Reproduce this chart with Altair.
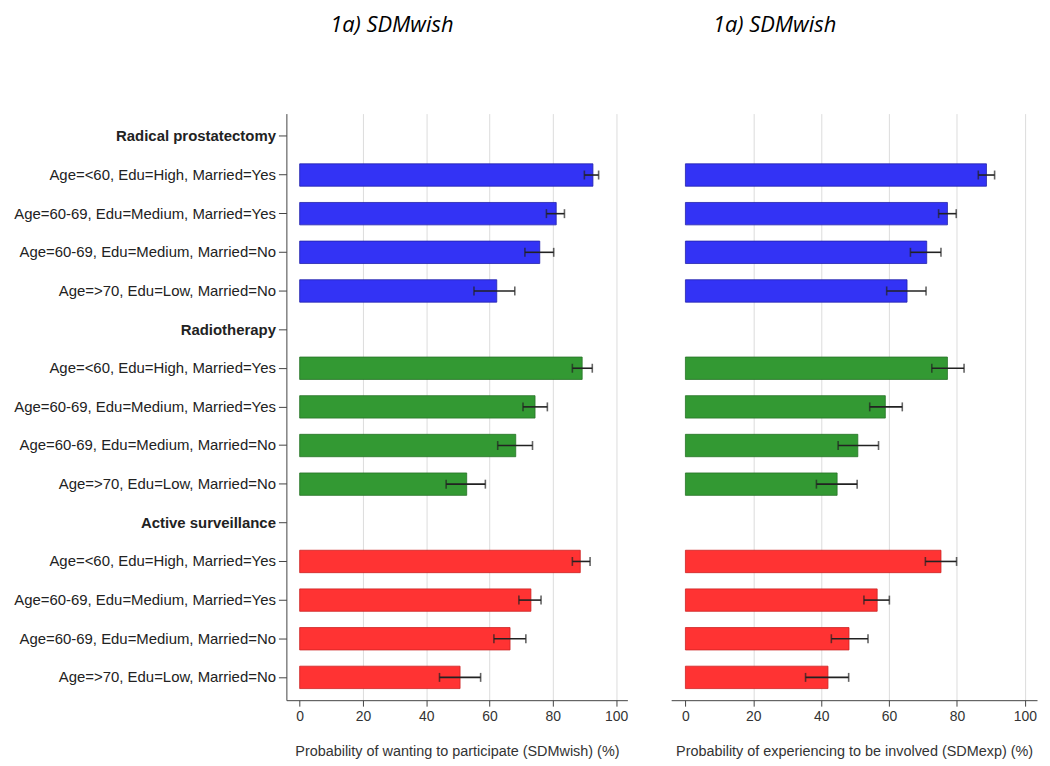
import altair as alt
import pandas as pd

groups = ["Radical prostatectomy", "Radiotherapy", "Active surveillance"]
profiles = [
    "Age=<60, Edu=High, Married=Yes",
    "Age=60-69, Edu=Medium, Married=Yes",
    "Age=60-69, Edu=Medium, Married=No",
    "Age=>70, Edu=Low, Married=No",
]
colors = ["#3333f5", "#339933", "#ff3333"]
strokes = ["#2222aa", "#267326", "#cc2222"]

wish_est = [92.7, 81.1, 75.9, 62.3, 89.3, 74.4, 68.3, 52.8, 88.7, 73.1, 66.5, 50.7]
wish_lo = [90.0, 78.0, 71.2, 55.1, 86.2, 70.6, 62.6, 46.3, 86.2, 69.3, 61.4, 44.2]
wish_hi = [94.5, 83.7, 80.3, 68.0, 92.5, 78.3, 73.6, 58.7, 91.8, 76.3, 71.5, 57.2]

exp_est = [88.7, 77.2, 71.1, 65.3, 77.2, 58.9, 50.8, 44.7, 75.3, 56.5, 48.2, 42.0]
exp_lo = [86.3, 74.6, 66.3, 59.3, 72.6, 54.3, 45.0, 38.6, 70.7, 52.6, 43.0, 35.4]
exp_hi = [91.1, 79.8, 75.3, 70.9, 82.1, 63.9, 56.9, 50.6, 79.9, 60.1, 53.8, 48.1]

title_text = "1a) SDMwish"
xtitle_left = "Probability of wanting to participate (SDMwish) (%)"
xtitle_right = "Probability of experiencing to be involved (SDMexp) (%)"

keys = []
rows = []
k = 0
for gi, g in enumerate(groups):
    keys.append(f"H{gi}|{g}")
    for ri, p in enumerate(profiles):
        key = f"R{gi}{ri}|{p}"
        keys.append(key)
        rows.append({
            "key": key, "group": g,
            "wish": wish_est[k], "wish_lo": wish_lo[k], "wish_hi": wish_hi[k],
            "exp": exp_est[k], "exp_lo": exp_lo[k], "exp_hi": exp_hi[k],
        })
        k += 1
df = pd.DataFrame(rows)

FONT = "Liberation Sans"
yscale = alt.Scale(domain=keys, paddingInner=0.42, paddingOuter=0.3)
xscale = alt.Scale(domain=[-4.2, 103.6], nice=False, zero=False)
cscale = alt.Scale(domain=groups, range=colors)
sscale = alt.Scale(domain=groups, range=strokes)


def xaxis(title):
    return alt.Axis(
        title=title, values=[0, 20, 40, 60, 80, 100], grid=True,
        gridColor=alt.condition("datum.value == 0", alt.value("transparent"), alt.value("#dcdcdc")),
        gridWidth=1, domainColor="#444", tickColor="#444", tickSize=6,
        labelFont=FONT, labelFontSize=14, labelColor="#333", labelPadding=3,
        titleFont=FONT, titleFontSize=14.5, titleColor="#333", titleFontWeight="normal",
        titlePadding=22,
    )


def panel(est, lo, hi, xtitle, show_y, width, dx):
    if show_y:
        yaxis = alt.Axis(
            title=None,
            labelExpr="split(datum.label, '|')[1]",
            labelFontWeight=alt.condition("substring(datum.value, 0, 1) == 'H'", alt.value("bold"), alt.value("normal")),
            labelFont=FONT, labelFontSize=15, labelColor="#222", labelPadding=3,
            tickSize=8, tickColor="#444", domainColor="#444", grid=False,
            labelLimit=400,
        )
    else:
        yaxis = alt.Axis(title=None, domainOpacity=0, domainColor="transparent",
                         ticks=False, labels=False, grid=False)
    y = alt.Y("key:N", scale=yscale, axis=yaxis)
    ax = xaxis(xtitle)
    base = alt.Chart(df)
    bars = base.mark_bar(strokeWidth=0.8).encode(
        x=alt.X(f"{est}:Q", scale=xscale, axis=ax),
        y=y,
        color=alt.Color("group:N", scale=cscale, legend=None),
        stroke=alt.Stroke("group:N", scale=sscale, legend=None),
    )
    rule = base.mark_rule(color="#222", strokeWidth=1.6).encode(
        x=alt.X(f"{lo}:Q", scale=xscale, axis=ax), x2=f"{hi}:Q", y=y,
    )
    cap_lo = base.mark_tick(color="#222", thickness=1.6, size=9).encode(
        x=alt.X(f"{lo}:Q", scale=xscale, axis=ax), y=y,
    )
    cap_hi = base.mark_tick(color="#222", thickness=1.6, size=9).encode(
        x=alt.X(f"{hi}:Q", scale=xscale, axis=ax), y=y,
    )
    return alt.layer(bars, rule, cap_lo, cap_hi).properties(
        width=width, height=590,
        title=alt.TitleParams(
            title_text, anchor="start", frame="group", dx=dx, offset=77,
            font="Open Sans", fontStyle="italic", fontSize=22, fontWeight="normal", color="black",
        ),
    )


left = panel("wish", "wish_lo", "wish_hi", xtitle_left, True, 343, 44)
right = panel("exp", "exp_lo", "exp_hi", xtitle_right, False, 368, 42)

chart = alt.hconcat(left, right, spacing=43).configure_view(strokeWidth=0).properties(
    background="white",
    padding={"left": 5, "top": 4, "right": 5, "bottom": 4},
)

chart.save("out.html", embed_options={"renderer": "svg", "actions": False})
